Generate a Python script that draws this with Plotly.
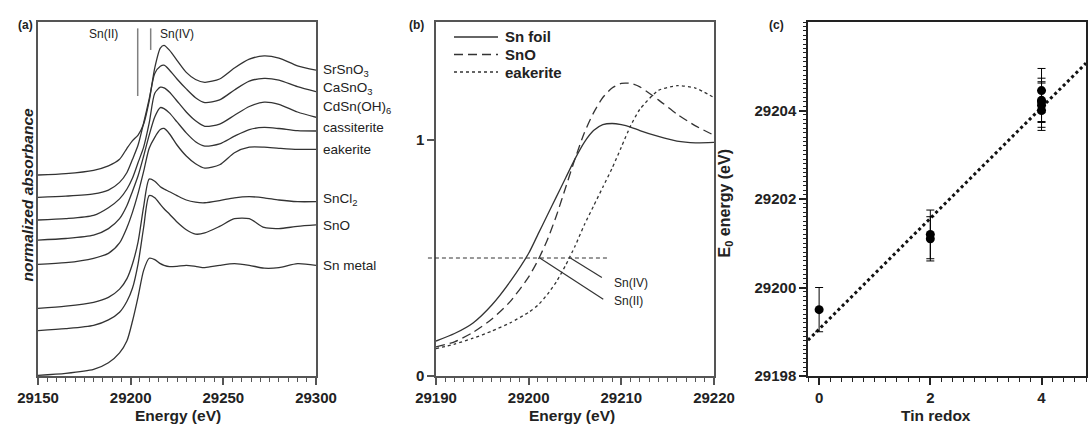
import plotly.graph_objects as go

# ---------------- Panel (a): stacked XANES spectra ----------------
energy_a = [29150, 29165, 29180, 29188, 29194, 29198, 29201, 29204, 29207, 29210, 29213, 29216, 29218,
            29221, 29225, 29230, 29235, 29240, 29248, 29256, 29264, 29272, 29280, 29290, 29300]
srsno3 = [1.827, 1.84, 1.87, 1.91, 1.97, 2.07, 2.14, 2.19, 2.29, 2.50, 2.80, 2.98, 3.005,
          2.96, 2.87, 2.76, 2.695, 2.67, 2.70, 2.80, 2.88, 2.91, 2.89, 2.82, 2.78]
casno3 = [1.624, 1.635, 1.655, 1.69, 1.76, 1.85, 1.97, 2.10, 2.30, 2.52, 2.75, 2.815, 2.825,
          2.78, 2.70, 2.61, 2.53, 2.485, 2.51, 2.60, 2.68, 2.706, 2.69, 2.63, 2.585]
cdsnoh6 = [1.418, 1.43, 1.46, 1.53, 1.61, 1.70, 1.80, 1.94, 2.08, 2.30, 2.57, 2.625, 2.62,
           2.58, 2.50, 2.40, 2.32, 2.27, 2.29, 2.37, 2.45, 2.49, 2.47, 2.40, 2.352]
cassiterite = [1.236, 1.25, 1.28, 1.34, 1.43, 1.55, 1.68, 1.82, 2.00, 2.19, 2.355, 2.44, 2.43,
               2.39, 2.31, 2.21, 2.13, 2.09, 2.11, 2.18, 2.24, 2.26, 2.25, 2.23, 2.227]
eakerite = [1.015, 1.03, 1.07, 1.115, 1.21, 1.35, 1.49, 1.66, 1.86, 2.07, 2.17, 2.24, 2.25,
            2.20, 2.10, 2.00, 1.93, 1.89, 1.92, 2.03, 2.08, 2.08, 2.07, 2.06, 2.06]
sncl2 = [0.615, 0.635, 0.67, 0.715, 0.79, 0.885, 1.02, 1.22, 1.54, 1.79, 1.77, 1.72, 1.70,
         1.675, 1.64, 1.60, 1.58, 1.575, 1.595, 1.62, 1.63, 1.62, 1.60, 1.585, 1.585]
sno = [0.412, 0.43, 0.46, 0.51, 0.58, 0.68, 0.80, 1.02, 1.35, 1.64, 1.62, 1.56, 1.52,
       1.47, 1.40, 1.33, 1.29, 1.30, 1.36, 1.43, 1.43, 1.35, 1.34, 1.36, 1.373]
sn_metal = [0.006, 0.024, 0.06, 0.12, 0.21, 0.32, 0.50, 0.72, 0.96, 1.07, 1.058, 1.021, 1.006,
            0.994, 0.997, 1.006, 0.997, 0.985, 1.006, 1.021, 1.006, 0.98, 0.985, 1.021, 1.006]
spectra_a = [srsno3, casno3, cdsnoh6, cassiterite, eakerite, sncl2, sno, sn_metal]
labels_a = ["SrSnO<sub>3</sub>", "CaSnO<sub>3</sub>", "CdSn(OH)<sub>6</sub>", "cassiterite",
            "eakerite", "SnCl<sub>2</sub>", "SnO", "Sn metal"]
label_y_a = [2.78, 2.61, 2.445, 2.26, 2.06, 1.6, 1.364, 1.006]
ticks_a = [29150, 29200, 29250, 29300]
marker_energies_a = [29203.8, 29210.8]   # Sn(II), Sn(IV) reference lines
marker_tops_a = [3.16, 3.16]
marker_bottoms_a = [2.545, 2.964]

# ---------------- Panel (b): edge region ----------------
energy_b = [29190, 29192, 29194, 29196, 29198, 29200, 29201, 29202, 29203, 29204, 29205,
            29206, 29207, 29208, 29209, 29210, 29211, 29212, 29214, 29216, 29218, 29220]
sn_foil_b = [0.148, 0.18, 0.225, 0.30, 0.40, 0.52, 0.60, 0.68, 0.76, 0.84, 0.92,
             0.99, 1.04, 1.065, 1.07, 1.065, 1.055, 1.04, 1.015, 0.995, 0.988, 0.99]
sno_b = [0.123, 0.145, 0.185, 0.24, 0.315, 0.42, 0.49, 0.575, 0.68, 0.80, 0.92,
         1.03, 1.115, 1.18, 1.22, 1.24, 1.24, 1.225, 1.17, 1.11, 1.06, 1.02]
eakerite_b = [0.116, 0.135, 0.16, 0.19, 0.225, 0.27, 0.30, 0.345, 0.40, 0.47, 0.55,
              0.64, 0.72, 0.80, 0.88, 0.97, 1.06, 1.13, 1.21, 1.23, 1.22, 1.18]
names_b = ["Sn foil", "SnO", "eakerite"]
dashes_b = ["solid", "9px,5px", "dot"]
ticks_b = [29190, 29200, 29210, 29220]
half_height = 0.5
e0_sn4, e0_sn2 = 29204.5, 29201.2

# ---------------- Panel (c): E0 vs redox ----------------
tin_redox = [0, 2, 2, 4, 4, 4, 4, 4]
e0_energy = [29199.5, 29201.2, 29201.1, 29204.45, 29204.23, 29204.2, 29204.12, 29204.0]
e0_error = [0.5, 0.55, 0.5, 0.5, 0.5, 0.45, 0.5, 0.45]
fit_slope, fit_intercept = 1.252, 29199.06
xrange_c = [-0.2, 4.8]
ticks_cx = [0, 2, 4]
ticks_cy = [29198, 29200, 29202, 29204]

# ---------------- figure ----------------
W, H = 1091, 425
FONT = "Liberation Sans, Arial, Helvetica, sans-serif"
LINE = "#333333"
FRAME = "#555555"


def px_x(p):
    return p / W


def px_y(p):
    return 1 - p / H


fig = go.Figure()

for ys in spectra_a:
    fig.add_trace(go.Scatter(x=energy_a, y=ys, mode="lines", xaxis="x", yaxis="y",
                             line=dict(color=LINE, width=1.3, shape="spline", smoothing=0.7),
                             showlegend=False, hoverinfo="skip"))
for e, top, bot in zip(marker_energies_a, marker_tops_a, marker_bottoms_a):
    fig.add_trace(go.Scatter(x=[e, e], y=[top, bot], mode="lines", xaxis="x", yaxis="y",
                             line=dict(color="#808080", width=1.5), showlegend=False,
                             hoverinfo="skip"))

for ys, nm, ds in zip([sn_foil_b, sno_b, eakerite_b], names_b, dashes_b):
    fig.add_trace(go.Scatter(x=energy_b, y=ys, mode="lines", xaxis="x2", yaxis="y2", name=nm,
                             line=dict(color=LINE, width=1.3, dash=ds, shape="spline",
                                       smoothing=0.6),
                             showlegend=False))

fig.add_trace(go.Scatter(x=xrange_c, y=[fit_intercept + fit_slope * v for v in xrange_c],
                         mode="lines", xaxis="x3", yaxis="y3",
                         line=dict(color="#111111", width=3, dash="dot"), showlegend=False))
fig.add_trace(go.Scatter(x=tin_redox, y=e0_energy, mode="markers", xaxis="x3", yaxis="y3",
                         marker=dict(color="black", size=9),
                         error_y=dict(type="data", array=e0_error, visible=True, color="black",
                                      thickness=1, width=4),
                         showlegend=False))

ydom = [px_y(376), px_y(22)]
tickfont = dict(family=FONT, size=15, color="#222", weight="bold")
axis_common = dict(showline=True, mirror=True, linecolor=FRAME, linewidth=1.5, showgrid=False,
                   zeroline=False, ticks="outside", tickcolor=FRAME, tickwidth=1.5, ticklen=7,
                   tickfont=tickfont)

fig.update_layout(
    width=W, height=H, margin=dict(l=0, r=0, t=0, b=0, autoexpand=False),
    paper_bgcolor="white", plot_bgcolor="white", showlegend=False,
    font=dict(family=FONT, color="#222"),
    xaxis=dict(axis_common, domain=[px_x(38), px_x(316)], anchor="y", range=[29150, 29300],
               tickvals=ticks_a, ticktext=[str(v) for v in ticks_a],
               minor=dict(ticks="outside", dtick=5, ticklen=4, tickcolor=FRAME, tickwidth=1)),
    yaxis=dict(axis_common, domain=ydom, anchor="x", range=[0, 3.218], ticks="",
               showticklabels=False),
    xaxis2=dict(axis_common, domain=[px_x(436), px_x(714)], anchor="y2", range=[29190, 29220],
                tickvals=ticks_b, ticktext=[str(v) for v in ticks_b],
                minor=dict(ticks="outside", dtick=1, ticklen=4, tickcolor=FRAME, tickwidth=1)),
    yaxis2=dict(axis_common, domain=ydom, anchor="x2", range=[0, 1.5], tickvals=[0, 1],
                ticktext=["0", "1"]),
    xaxis3=dict(axis_common, domain=[px_x(808), px_x(1086)], anchor="y3", range=xrange_c,
                tickvals=ticks_cx, ticktext=[str(v) for v in ticks_cx],
                linecolor="#222", tickcolor="#222",
                minor=dict(ticks="outside", dtick=0.2, ticklen=4, tickcolor="#222", tickwidth=1)),
    yaxis3=dict(axis_common, domain=ydom, anchor="x3", range=[29198, 29206],
                tickvals=ticks_cy, ticktext=[str(v) for v in ticks_cy],
                linecolor="#222", tickcolor="#222",
                minor=dict(ticks="outside", dtick=0.1, ticklen=3, tickcolor="#222", tickwidth=1)),
)

ann = []
title_font = dict(family=FONT, size=15.5, color="#222", weight="bold")
for txt, cx in [("Energy (eV)", 178), ("Energy (eV)", 572), ("Tin redox", 936)]:
    ann.append(dict(text=txt, x=px_x(cx), y=px_y(415), xref="paper", yref="paper",
                    showarrow=False, font=title_font, xanchor="center", yanchor="middle"))
ann.append(dict(text="<i>normalized absorbance</i>", x=px_x(17), y=px_y(195), xref="paper",
                yref="paper", showarrow=False, textangle=-90, font=title_font))
ann.append(dict(text="E<sub>0</sub> energy (eV)", x=px_x(736), y=px_y(203), xref="paper",
                yref="paper", showarrow=False, textangle=-90,
                font=dict(title_font, size=16)))
for txt, cx in [("(a)", 16), ("(b)", 416), ("(c)", 786)]:
    ann.append(dict(text=txt, x=px_x(cx), y=px_y(16), xref="paper", yref="paper",
                    showarrow=False, font=dict(family=FONT, size=12, color="#222", weight="bold")))
for yl, lab in zip(label_y_a, labels_a):
    ann.append(dict(text=lab, x=energy_a[-1], y=yl, xref="x", yref="y", xanchor="left",
                    yanchor="middle", xshift=5, showarrow=False,
                    font=dict(family=FONT, size=13.5, color="#222")))
ann.append(dict(text="Sn(II)", x=29194.5, y=3.11, xref="x", yref="y", xanchor="right",
                showarrow=False, font=dict(family=FONT, size=12, color="#222")))
ann.append(dict(text="Sn(IV)", x=29214.5, y=3.11, xref="x", yref="y", xanchor="left",
                showarrow=False, font=dict(family=FONT, size=12, color="#222")))
ann.append(dict(text="Sn(IV)", x=29209.0, y=0.395, xref="x2", yref="y2", xanchor="left",
                showarrow=False, font=dict(family=FONT, size=12, color="#222")))
ann.append(dict(text="Sn(II)", x=29209.0, y=0.318, xref="x2", yref="y2", xanchor="left",
                showarrow=False, font=dict(family=FONT, size=12, color="#222")))

# manual legend for panel (b)
shapes = []
legend_rows_px = [37, 54.5, 72]
for nm, ds, ry in zip(names_b, dashes_b, legend_rows_px):
    shapes.append(dict(type="line", xref="paper", yref="paper", x0=px_x(454), x1=px_x(498),
                       y0=px_y(ry), y1=px_y(ry), line=dict(color=LINE, width=1.3, dash=ds)))
    ann.append(dict(text=nm, x=px_x(503), y=px_y(ry), xref="paper", yref="paper",
                    xanchor="left", yanchor="middle", showarrow=False,
                    font=dict(family=FONT, size=15, color="#222", weight="bold")))
fig.update_layout(annotations=ann)

shapes += [
    dict(type="line", xref="x2 domain", yref="y2 domain", x0=-0.029, x1=0.615,
         y0=half_height / 1.5, y1=half_height / 1.5,
         line=dict(color=LINE, width=1, dash="4px,3px")),
    dict(type="line", xref="x2", yref="y2", x0=e0_sn4, y0=half_height, x1=29207.9, y1=0.417,
         line=dict(color=LINE, width=1.2)),
    dict(type="line", xref="x2", yref="y2", x0=e0_sn2, y0=half_height, x1=29208.05, y1=0.325,
         line=dict(color=LINE, width=1.2)),
]
fig.update_layout(shapes=shapes)

fig.write_html("out.html", config={"displayModeBar": False},
               post_script="document.body.style.margin='0';document.body.style.overflow='hidden';")
